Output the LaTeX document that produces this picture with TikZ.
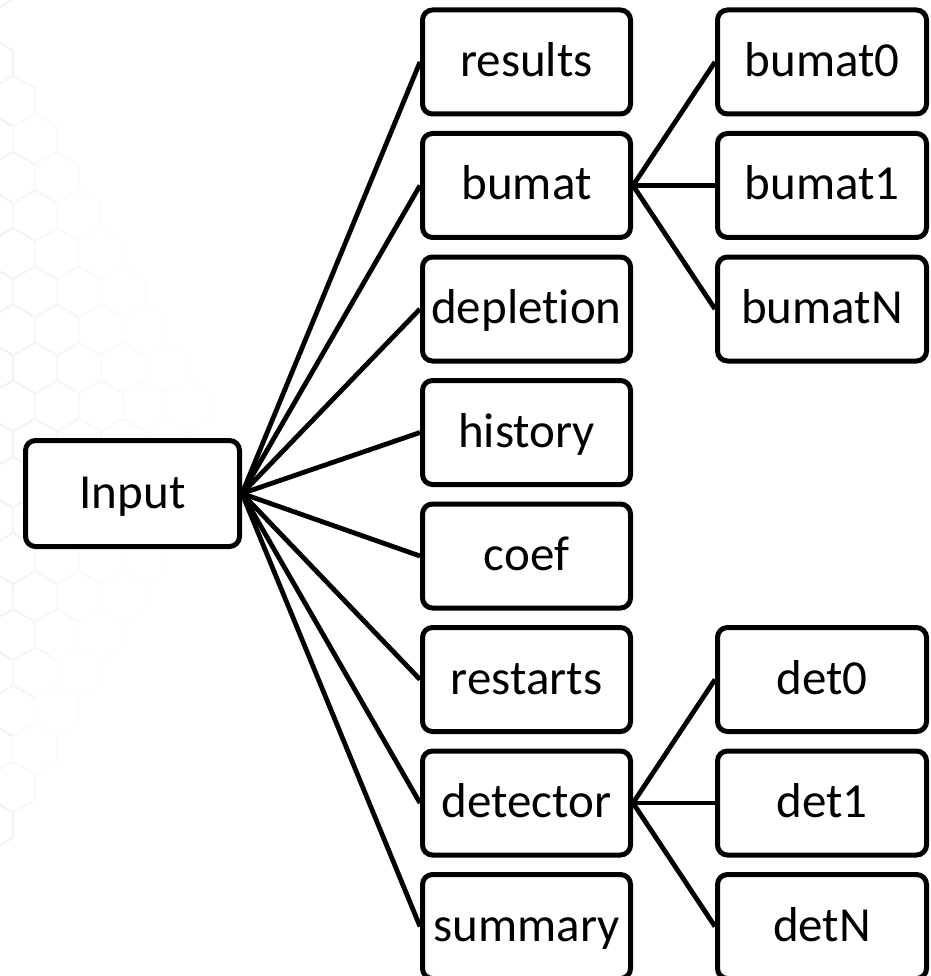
\documentclass[tikz,border=0pt]{standalone}
\usepackage{fontspec}
\setmainfont[Ligatures=NoCommon]{Carlito}
\tikzset{
  box/.style={draw, line width=5pt, rounded corners=10pt, fill=white,
    minimum width=208pt, minimum height=104pt, inner sep=0pt,
    text height=34pt, text depth=5pt, font=\fontsize{49}{59}\selectfont},
  link/.style={line width=4.8pt},
  hexline/.style={line width=1.8pt}
}
\begin{document}
\begin{tikzpicture}[x=1pt, y=-1pt]
  \useasboundingbox (0,0) rectangle (930,976);
  \clip (0,0) rectangle (930,976);

  % faint honeycomb backdrop on the left, fading to the right
  \foreach \j in {-1,...,22} {
    \foreach \i in {-1,...,6} {
      \pgfmathsetmacro\cy{25+38.1*\j}
      \pgfmathsetmacro\cx{13+44*\i+22*mod(\j,2)}
      \pgfmathsetmacro\r{max(1,235*(1-abs(\cy-430)/410))}
      \pgfmathsetmacro\k{min(5,max(0,5*(1-max(\cx,0)/\r)))}
      \ifdim\k pt>0.4pt
        \draw[hexline, draw=black!\k] (\cx,\cy) +(30:25.4) -- +(90:25.4) -- +(150:25.4)
          -- +(210:25.4) -- +(270:25.4) -- +(330:25.4) -- cycle;
      \fi
    }
  }

  % root
  \node[box, minimum width=214pt, minimum height=106pt] (input) at (132.5,493.5) {Input};

  % first level
  \node[box] (results)   at (526.5,62)    {results};
  \node[box] (bumat)     at (526.5,185.5) {bumat};
  \node[box] (depletion) at (526.5,309)   {deplet\kern0pt ion};
  \node[box] (history)   at (526.5,432.5) {history};
  \node[box] (coef)      at (526.5,556)   {coef};
  \node[box] (restarts)  at (526.5,679.5) {restarts};
  \node[box] (detector)  at (526.5,803)   {detector};
  \node[box] (summary)   at (526.5,926.5) {summary};

  % second level
  \node[box, minimum width=209pt] (bumat0) at (822,62)    {bumat0};
  \node[box, minimum width=209pt] (bumat1) at (822,185.5) {bumat1};
  \node[box, minimum width=209pt] (bumatN) at (822,309)   {bumatN};
  \node[box, minimum width=209pt] (det0)   at (822,679.5) {det0};
  \node[box, minimum width=209pt] (det1)   at (822,803)   {det1};
  \node[box, minimum width=209pt] (detN)   at (822,926.5) {detN};

  % connectors
  \foreach \n in {results,bumat,depletion,history,coef,restarts,detector,summary}
    \draw[link] (input.east) -- (\n.west);
  \foreach \n in {bumat0,bumat1,bumatN}
    \draw[link] (bumat.east) -- (\n.west);
  \foreach \n in {det0,det1,detN}
    \draw[link] (detector.east) -- (\n.west);
\end{tikzpicture}
\end{document}
